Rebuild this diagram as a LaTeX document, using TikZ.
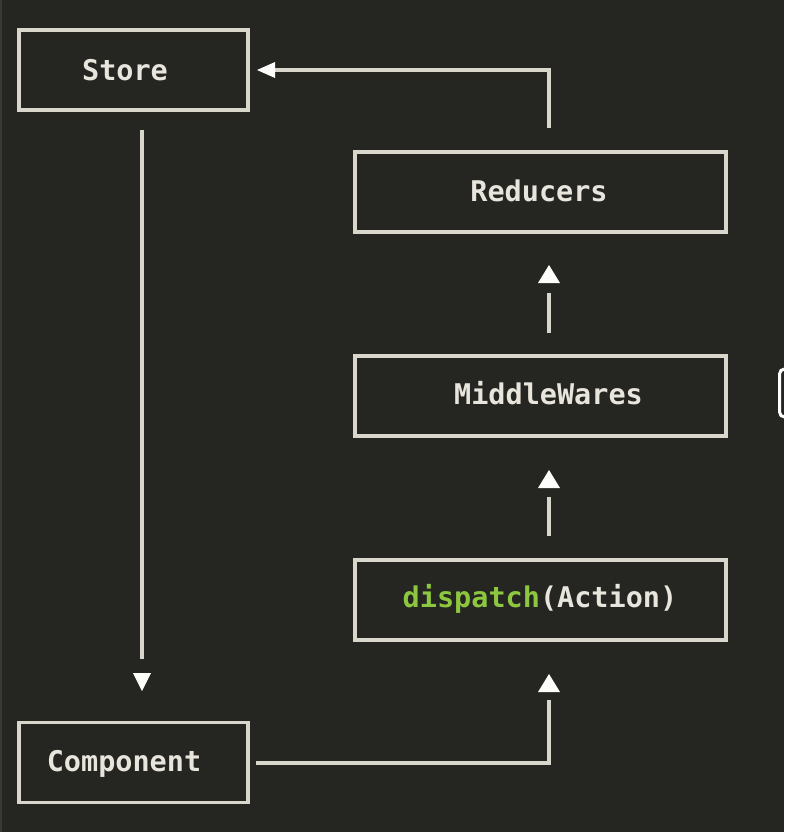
\documentclass[tikz,border=0pt]{standalone}
\usepackage{fontspec}
\newfontfamily\mono{DejaVu Sans Mono}
\definecolor{bg}{HTML}{252521}
\definecolor{ln}{HTML}{D9D6CB}
\definecolor{tx}{HTML}{E8E5DC}
\definecolor{gr}{HTML}{8DC63F}
\definecolor{edge}{HTML}{3A3A35}
\begin{document}
\begin{tikzpicture}[x=1pt,y=-1pt,
  box/.style={draw=ln, line width=3.5pt, minimum height=80pt, inner sep=0pt, rectangle},
  narrow/.style={box, minimum width=229pt},
  wide/.style={box, minimum width=371pt},
  txt/.style={font=\mono\bfseries\fontsize{28.5}{30}\selectfont, text=tx, inner sep=0pt, anchor=base},
  conn/.style={draw=ln, line width=3.5pt},
  tip/.style={fill=white!95!ln}]
\useasboundingbox (0,0) rectangle (784,832);
\fill[bg] (0,0) rectangle (784,832);
\fill[edge] (0,0) rectangle (1.5,832);

% boxes
\node[narrow] (store) at (133.5,70) {};
\node[wide] (red) at (540.5,192) {};
\node[wide] (mw) at (540.5,396) {};
\node[wide] (disp) at (540.5,600) {};
\node[narrow] (comp) at (133.5,762.5) {};

% texts
\node[txt] (tstore) at (125,81) {Store};
\node[txt] (tred) at (539,201) {Reducers};
\node[txt] (tmw) at (548.5,404) {MiddleWares};
\node[txt] (tdisp) at (540,607) {{\color{gr}dispatch}(Action)};
\node[txt] (tcomp) at (124,771) {Component};

% connector end points
\coordinate (sdA) at (142,130);
\coordinate (sdB) at (142,659);
\coordinate (rsA) at (549,128);
\coordinate (rsC) at (549,70);
\coordinate (rsB) at (275,70);
\coordinate (mrA) at (549,333);
\coordinate (mrB) at (549,293);
\coordinate (dmA) at (549,536);
\coordinate (dmB) at (549,497);
\coordinate (cdA) at (256,763);
\coordinate (cdC) at (549,763);
\coordinate (cdB) at (549,700);

% connectors
\draw[conn] (sdA) -- (sdB);
\draw[conn] (rsA) -- (rsC) -- (rsB);
\draw[conn] (mrA) -- (mrB);
\draw[conn] (dmA) -- (dmB);
\draw[conn] (cdA) -- (cdC) -- (cdB);

% arrow heads
\fill[tip] (142,691) -- (133,673) -- (151,673) -- cycle;
\fill[tip] (257,70) -- (275,62) -- (275,78) -- cycle;
\fill[tip] (549,265) -- (538,283) -- (560,283) -- cycle;
\fill[tip] (549,470) -- (538,488) -- (560,488) -- cycle;
\fill[tip] (549,674) -- (538,692) -- (560,692) -- cycle;

% partial shape at the right edge
\draw[white, line width=3pt, rounded corners=5pt] (779.5,369) rectangle (805,417);
\end{tikzpicture}
\end{document}
